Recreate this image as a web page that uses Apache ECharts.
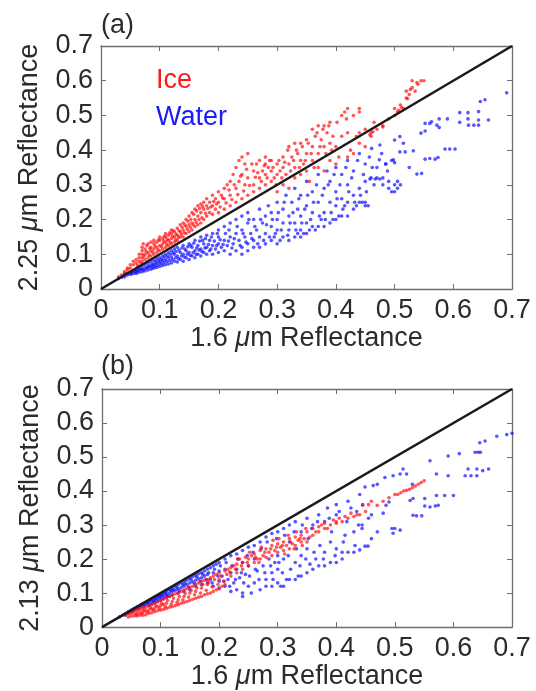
<!DOCTYPE html>
<html>
<head>
<meta charset="utf-8">
<script src="https://cdn.jsdelivr.net/npm/echarts@6/dist/echarts.min.js"></script>
<style>
html, body { margin: 0; padding: 0; background: #fff; }
#main { width: 536px; height: 691px; }
</style>
</head>
<body>
<div id="main"></div>
<script>
var ticks = [0, 0.1, 0.2, 0.3, 0.4, 0.5, 0.6, 0.7];
var diagLine = [[0, 0], [0.7, 0.7]];
var panelTags = ['(a)', '(b)'];
var yTitles = ['2.25 {mu|μ}m Reflectance', '2.13 {mu|μ}m Reflectance'];
var xTitle = '1.6 {mu|μ}m Reflectance';

// panel (a): 1.6 vs 2.25 um
var iceA = [
[0.03,0.035],[0.035,0.04],[0.04,0.045],[0.04,0.05],[0.045,0.055],[0.045,0.06],[0.05,0.06],[0.05,0.07],[0.055,0.07],[0.055,0.08],
[0.06,0.075],[0.06,0.085],[0.065,0.08],[0.065,0.09],[0.065,0.1],[0.07,0.08],[0.07,0.09],[0.07,0.1],[0.07,0.11],[0.07,0.12],
[0.072,0.13],[0.075,0.085],[0.075,0.1],[0.075,0.115],[0.078,0.125],[0.08,0.09],[0.08,0.105],[0.08,0.13],[0.085,0.095],[0.085,0.11],
[0.085,0.12],[0.085,0.135],[0.09,0.1],[0.09,0.115],[0.09,0.13],[0.09,0.14],[0.095,0.105],[0.095,0.12],[0.095,0.135],[0.1,0.11],
[0.1,0.125],[0.1,0.14],[0.1,0.15],[0.105,0.115],[0.105,0.13],[0.105,0.145],[0.11,0.12],[0.11,0.135],[0.11,0.15],[0.11,0.16],
[0.115,0.125],[0.115,0.14],[0.115,0.155],[0.12,0.13],[0.12,0.145],[0.12,0.16],[0.12,0.17],[0.125,0.135],[0.125,0.15],[0.125,0.165],
[0.13,0.14],[0.13,0.155],[0.13,0.175],[0.135,0.15],[0.135,0.165],[0.135,0.185],[0.14,0.15],[0.14,0.17],[0.14,0.19],[0.145,0.16],
[0.145,0.18],[0.145,0.2],[0.15,0.165],[0.15,0.185],[0.15,0.21],[0.155,0.17],[0.155,0.19],[0.155,0.22],[0.16,0.18],[0.16,0.2],
[0.16,0.23],[0.165,0.185],[0.165,0.21],[0.165,0.24],[0.17,0.19],[0.17,0.22],[0.17,0.245],[0.175,0.2],[0.175,0.23],[0.175,0.25],
[0.18,0.21],[0.18,0.24],[0.18,0.26],[0.185,0.22],[0.185,0.25],[0.19,0.215],[0.19,0.24],[0.19,0.27],[0.195,0.23],[0.195,0.26],
[0.2,0.22],[0.2,0.25],[0.2,0.28],[0.205,0.27],[0.21,0.23],[0.21,0.26],[0.21,0.29],[0.215,0.3],[0.22,0.24],[0.22,0.27],
[0.22,0.31],[0.225,0.33],[0.23,0.25],[0.23,0.29],[0.23,0.35],[0.235,0.31],[0.235,0.37],[0.24,0.26],[0.24,0.33],[0.24,0.38],
[0.245,0.3],[0.245,0.36],[0.25,0.27],[0.25,0.32],[0.25,0.39],[0.26,0.28],[0.26,0.3],[0.26,0.34],[0.265,0.36],[0.27,0.29],
[0.27,0.32],[0.27,0.37],[0.275,0.34],[0.28,0.3],[0.28,0.33],[0.28,0.36],[0.28,0.38],[0.285,0.35],[0.29,0.31],[0.29,0.34],
[0.29,0.37],[0.295,0.32],[0.3,0.28],[0.3,0.33],[0.3,0.36],[0.305,0.34],[0.31,0.3],[0.31,0.35],[0.31,0.38],[0.315,0.33],
[0.32,0.29],[0.32,0.36],[0.32,0.41],[0.325,0.38],[0.33,0.32],[0.33,0.35],[0.33,0.42],[0.335,0.39],[0.34,0.33],[0.34,0.37],
[0.34,0.42],[0.345,0.36],[0.35,0.34],[0.35,0.39],[0.35,0.43],[0.355,0.31],[0.36,0.37],[0.36,0.41],[0.36,0.46],[0.365,0.44],
[0.37,0.35],[0.37,0.39],[0.37,0.47],[0.375,0.43],[0.38,0.34],[0.38,0.41],[0.38,0.47],[0.385,0.45],[0.39,0.37],[0.39,0.42],
[0.39,0.48],[0.395,0.44],[0.4,0.36],[0.4,0.41],[0.41,0.44],[0.41,0.5],[0.415,0.51],[0.42,0.38],[0.42,0.45],[0.42,0.52],
[0.43,0.39],[0.43,0.5],[0.44,0.42],[0.44,0.52],[0.45,0.41],[0.45,0.46],[0.46,0.45],[0.47,0.46],[0.48,0.47],[0.49,0.49],
[0.5,0.5],[0.5,0.52],[0.505,0.51],[0.51,0.53],[0.515,0.52],[0.52,0.55],[0.52,0.57],[0.525,0.56],[0.53,0.58],[0.53,0.6],
[0.535,0.57],[0.54,0.59],[0.545,0.6],[0.55,0.6],[0.46,0.44],[0.44,0.45],[0.465,0.48],[0.458,0.444],[0.463,0.453],[0.48,0.467],
[0.062,0.068],[0.068,0.074],[0.073,0.094],[0.077,0.108],[0.082,0.098],[0.083,0.117],[0.088,0.106],[0.092,0.124],[0.097,0.113],[0.098,0.142],
[0.103,0.122],[0.107,0.138],[0.108,0.152],[0.112,0.128],[0.113,0.143],[0.117,0.162],[0.118,0.134],[0.122,0.152],[0.123,0.168],[0.127,0.142],
[0.128,0.158],[0.132,0.148],[0.133,0.168],[0.137,0.158],[0.138,0.178],[0.142,0.162],[0.143,0.185],[0.147,0.172],[0.148,0.195],[0.152,0.178],
[0.153,0.2],[0.157,0.185],[0.158,0.215],[0.162,0.192],[0.163,0.225],[0.167,0.2],[0.168,0.232],[0.172,0.205],[0.173,0.238],[0.178,0.218],
[0.182,0.232],[0.187,0.236],[0.192,0.252],[0.197,0.245],[0.203,0.236],[0.207,0.262],[0.213,0.248],[0.218,0.285],[0.223,0.258],[0.227,0.3],
[0.233,0.272],[0.238,0.325],[0.243,0.282],[0.248,0.345],[0.253,0.298],[0.257,0.36],[0.263,0.322],[0.267,0.335],[0.273,0.31],[0.278,0.355],
[0.283,0.32],[0.287,0.37],[0.293,0.35],[0.298,0.3],[0.303,0.37],[0.308,0.32],[0.313,0.365],[0.318,0.4],[0.323,0.34],[0.328,0.37],
[0.333,0.4],[0.338,0.35],[0.343,0.41],[0.348,0.37],[0.353,0.42],[0.358,0.39],[0.363,0.35],[0.368,0.45],[0.373,0.41],[0.378,0.46],
[0.383,0.39],[0.388,0.47],[0.393,0.4],[0.405,0.38],[0.425,0.4],[0.435,0.44],[0.402,0.48],[0.418,0.49],[0.44,0.51],[0.527,0.575],
[0.538,0.595],[0.522,0.548],[0.507,0.515],[0.512,0.523]
];
var waterA = [
[0.03,0.03],[0.035,0.033],[0.04,0.035],[0.04,0.04],[0.045,0.04],[0.045,0.045],[0.05,0.042],[0.05,0.048],[0.055,0.045],[0.055,0.052],
[0.06,0.045],[0.06,0.05],[0.06,0.057],[0.065,0.048],[0.065,0.055],[0.065,0.062],[0.07,0.05],[0.07,0.058],[0.07,0.066],[0.075,0.052],
[0.075,0.06],[0.075,0.07],[0.08,0.055],[0.08,0.063],[0.08,0.074],[0.085,0.057],[0.085,0.067],[0.085,0.078],[0.09,0.06],[0.09,0.07],
[0.09,0.082],[0.095,0.062],[0.095,0.074],[0.095,0.087],[0.1,0.065],[0.1,0.078],[0.1,0.09],[0.105,0.068],[0.105,0.082],[0.105,0.095],
[0.11,0.07],[0.11,0.085],[0.11,0.1],[0.115,0.072],[0.115,0.09],[0.115,0.105],[0.12,0.075],[0.12,0.092],[0.12,0.11],[0.125,0.08],
[0.125,0.1],[0.125,0.115],[0.13,0.078],[0.13,0.095],[0.13,0.12],[0.135,0.085],[0.135,0.105],[0.14,0.08],[0.14,0.1],[0.14,0.125],
[0.145,0.09],[0.145,0.11],[0.15,0.085],[0.15,0.105],[0.15,0.13],[0.155,0.095],[0.155,0.12],[0.16,0.09],[0.16,0.11],[0.16,0.14],
[0.165,0.1],[0.165,0.125],[0.17,0.095],[0.17,0.115],[0.17,0.15],[0.175,0.105],[0.175,0.13],[0.18,0.1],[0.18,0.12],[0.18,0.155],
[0.185,0.11],[0.185,0.14],[0.19,0.1],[0.19,0.125],[0.19,0.16],[0.195,0.115],[0.2,0.105],[0.2,0.13],[0.2,0.15],[0.2,0.17],
[0.205,0.12],[0.21,0.11],[0.21,0.14],[0.21,0.18],[0.215,0.125],[0.22,0.1],[0.22,0.15],[0.22,0.19],[0.225,0.13],[0.23,0.11],
[0.23,0.16],[0.23,0.2],[0.235,0.14],[0.24,0.1],[0.24,0.12],[0.24,0.17],[0.24,0.21],[0.245,0.15],[0.25,0.11],[0.25,0.13],
[0.25,0.19],[0.25,0.22],[0.255,0.16],[0.26,0.12],[0.26,0.14],[0.26,0.2],[0.265,0.17],[0.27,0.12],[0.27,0.15],[0.27,0.23],
[0.275,0.19],[0.28,0.13],[0.28,0.16],[0.28,0.21],[0.285,0.24],[0.29,0.14],[0.29,0.18],[0.29,0.22],[0.295,0.15],[0.3,0.13],
[0.3,0.17],[0.3,0.2],[0.3,0.25],[0.305,0.14],[0.31,0.15],[0.31,0.19],[0.31,0.23],[0.315,0.27],[0.32,0.14],[0.32,0.17],
[0.32,0.21],[0.325,0.25],[0.33,0.15],[0.33,0.19],[0.33,0.29],[0.335,0.16],[0.335,0.23],[0.34,0.15],[0.34,0.17],[0.34,0.21],
[0.34,0.27],[0.345,0.16],[0.35,0.16],[0.35,0.19],[0.35,0.24],[0.35,0.31],[0.355,0.17],[0.36,0.18],[0.36,0.22],[0.36,0.28],
[0.365,0.17],[0.37,0.18],[0.37,0.25],[0.37,0.33],[0.375,0.2],[0.38,0.18],[0.38,0.22],[0.38,0.29],[0.385,0.34],[0.39,0.19],
[0.39,0.25],[0.39,0.31],[0.395,0.2],[0.4,0.2],[0.4,0.24],[0.4,0.28],[0.4,0.35],[0.405,0.21],[0.41,0.21],[0.41,0.26],
[0.41,0.33],[0.415,0.24],[0.42,0.21],[0.42,0.25],[0.42,0.3],[0.42,0.37],[0.43,0.23],[0.43,0.27],[0.43,0.34],[0.435,0.24],
[0.44,0.25],[0.44,0.29],[0.44,0.39],[0.445,0.25],[0.45,0.24],[0.45,0.25],[0.45,0.31],[0.45,0.36],[0.455,0.24],[0.46,0.32],
[0.461,0.405],[0.465,0.3],[0.47,0.32],[0.47,0.35],[0.475,0.415],[0.48,0.3],[0.48,0.32],[0.485,0.36],[0.49,0.29],[0.49,0.31],
[0.495,0.28],[0.495,0.37],[0.5,0.28],[0.5,0.3],[0.5,0.364],[0.498,0.372],[0.5,0.429],[0.505,0.29],[0.505,0.31],[0.509,0.395],
[0.509,0.439],[0.51,0.3],[0.518,0.395],[0.532,0.398],[0.538,0.331],[0.546,0.333],[0.545,0.449],[0.552,0.455],[0.552,0.374],[0.56,0.376],
[0.569,0.374],[0.574,0.379],[0.56,0.477],[0.563,0.482],[0.552,0.477],[0.572,0.472],[0.576,0.465],[0.576,0.49],[0.59,0.49],[0.586,0.403],
[0.594,0.403],[0.603,0.403],[0.611,0.48],[0.611,0.508],[0.625,0.508],[0.625,0.49],[0.626,0.472],[0.635,0.472],[0.643,0.472],[0.643,0.487],
[0.66,0.487],[0.643,0.511],[0.646,0.54],[0.654,0.545],[0.691,0.565],[0.474,0.372],[0.485,0.36],[0.458,0.317],[0.467,0.317],[0.475,0.317],
[0.052,0.044],[0.058,0.049],[0.062,0.052],[0.067,0.056],[0.072,0.055],[0.078,0.061],[0.082,0.066],[0.087,0.062],[0.088,0.072],[0.092,0.066],
[0.093,0.078],[0.097,0.069],[0.098,0.082],[0.102,0.073],[0.103,0.086],[0.107,0.076],[0.108,0.092],[0.112,0.079],[0.113,0.095],[0.117,0.082],
[0.118,0.1],[0.122,0.085],[0.123,0.104],[0.127,0.09],[0.128,0.108],[0.132,0.088],[0.133,0.112],[0.137,0.095],[0.138,0.118],[0.142,0.092],
[0.143,0.115],[0.147,0.1],[0.148,0.122],[0.152,0.097],[0.153,0.125],[0.157,0.105],[0.158,0.132],[0.162,0.1],[0.163,0.118],[0.167,0.112],
[0.168,0.138],[0.172,0.108],[0.173,0.14],[0.177,0.118],[0.178,0.145],[0.183,0.128],[0.187,0.115],[0.188,0.15],[0.193,0.138],[0.197,0.125],
[0.198,0.16],[0.203,0.142],[0.208,0.128],[0.212,0.16],[0.217,0.138],[0.218,0.17],[0.223,0.118],[0.227,0.145],[0.232,0.18],[0.237,0.125],
[0.242,0.16],[0.247,0.135],[0.252,0.2],[0.257,0.145],[0.262,0.18],[0.267,0.13],[0.272,0.2],[0.277,0.14],[0.282,0.185],[0.287,0.15],
[0.292,0.2],[0.297,0.16],[0.302,0.22],[0.307,0.17],[0.312,0.25],[0.318,0.155],[0.322,0.19],[0.327,0.22],[0.332,0.17],[0.337,0.26],
[0.342,0.19],[0.347,0.23],[0.352,0.27],[0.357,0.2],[0.362,0.25],[0.367,0.3],[0.372,0.21],[0.377,0.27],[0.382,0.2],[0.387,0.3],
[0.392,0.22],[0.397,0.33],[0.402,0.26],[0.407,0.3],[0.412,0.23],[0.417,0.35],[0.422,0.28],[0.427,0.32],[0.432,0.25],[0.437,0.37],
[0.442,0.27],[0.447,0.33],[0.452,0.28],[0.457,0.38],[0.462,0.35],[0.478,0.39],[0.488,0.34],[0.515,0.42],[0.525,0.35]
];

// panel (b): 1.6 vs 2.13 um
var iceB = [
[0.04,0.035],[0.045,0.03],[0.045,0.04],[0.05,0.032],[0.05,0.04],[0.05,0.045],[0.055,0.033],[0.055,0.042],[0.055,0.05],[0.06,0.033],
[0.06,0.04],[0.06,0.048],[0.06,0.055],[0.065,0.035],[0.065,0.043],[0.065,0.052],[0.07,0.035],[0.07,0.045],[0.07,0.055],[0.07,0.06],
[0.075,0.036],[0.075,0.047],[0.075,0.058],[0.08,0.04],[0.08,0.05],[0.08,0.062],[0.085,0.042],[0.085,0.053],[0.085,0.066],[0.09,0.045],
[0.09,0.056],[0.09,0.07],[0.095,0.048],[0.095,0.06],[0.095,0.074],[0.1,0.05],[0.1,0.063],[0.1,0.078],[0.105,0.052],[0.105,0.066],
[0.105,0.082],[0.11,0.055],[0.11,0.07],[0.11,0.086],[0.115,0.058],[0.115,0.09],[0.12,0.06],[0.12,0.075],[0.12,0.094],[0.125,0.063],
[0.125,0.098],[0.13,0.066],[0.13,0.08],[0.13,0.1],[0.135,0.07],[0.135,0.105],[0.14,0.072],[0.14,0.09],[0.14,0.11],[0.145,0.075],
[0.145,0.113],[0.15,0.078],[0.15,0.1],[0.15,0.117],[0.155,0.082],[0.155,0.12],[0.16,0.085],[0.16,0.105],[0.16,0.125],[0.165,0.088],
[0.165,0.13],[0.17,0.09],[0.17,0.115],[0.17,0.135],[0.175,0.095],[0.175,0.138],[0.18,0.098],[0.18,0.125],[0.18,0.14],[0.185,0.1],
[0.185,0.145],[0.19,0.105],[0.19,0.15],[0.195,0.11],[0.195,0.155],[0.2,0.112],[0.2,0.14],[0.2,0.16],[0.205,0.12],[0.21,0.125],
[0.21,0.165],[0.215,0.17],[0.22,0.15],[0.22,0.175],[0.225,0.18],[0.23,0.16],[0.23,0.185],[0.235,0.2],[0.24,0.17],[0.24,0.19],
[0.245,0.205],[0.25,0.18],[0.25,0.2],[0.255,0.21],[0.26,0.19],[0.26,0.215],[0.265,0.2],[0.27,0.2],[0.27,0.225],[0.275,0.21],
[0.28,0.205],[0.28,0.23],[0.285,0.22],[0.29,0.21],[0.29,0.24],[0.295,0.225],[0.3,0.22],[0.3,0.245],[0.305,0.235],[0.31,0.225],
[0.31,0.25],[0.315,0.24],[0.32,0.23],[0.32,0.26],[0.325,0.245],[0.33,0.24],[0.33,0.265],[0.335,0.255],[0.34,0.25],[0.34,0.27],
[0.345,0.26],[0.35,0.25],[0.35,0.28],[0.36,0.27],[0.36,0.29],[0.37,0.28],[0.37,0.295],[0.38,0.29],[0.38,0.305],[0.39,0.3],
[0.4,0.305],[0.4,0.31],[0.41,0.31],[0.42,0.32],[0.43,0.325],[0.44,0.33],[0.445,0.358],[0.455,0.36],[0.46,0.37],[0.47,0.358],
[0.48,0.37],[0.49,0.38],[0.5,0.39],[0.505,0.39],[0.51,0.395],[0.515,0.4],[0.52,0.402],[0.525,0.405],[0.53,0.41],[0.535,0.415],
[0.54,0.42],[0.545,0.425],[0.55,0.43],
[0.058,0.036],[0.068,0.04],[0.072,0.05],[0.078,0.044],[0.083,0.057],[0.088,0.05],[0.092,0.063],[0.098,0.055],[0.102,0.07],[0.108,0.06],
[0.112,0.078],[0.118,0.066],[0.122,0.085],[0.128,0.072],[0.132,0.09],[0.138,0.08],[0.142,0.098],[0.148,0.088],[0.152,0.108],[0.158,0.095],
[0.162,0.115],[0.168,0.1],[0.172,0.125],[0.178,0.108],[0.182,0.132],[0.188,0.118],[0.192,0.14],[0.198,0.125],[0.203,0.15],[0.208,0.135],
[0.213,0.155],[0.218,0.162],[0.228,0.17],[0.232,0.2],[0.238,0.18],[0.248,0.19],[0.252,0.22],[0.262,0.205],[0.268,0.19],[0.272,0.235],
[0.278,0.22],[0.288,0.23],[0.292,0.255],[0.298,0.235],[0.302,0.26],[0.308,0.24],[0.312,0.215],[0.318,0.27],[0.322,0.25],[0.328,0.23],
[0.332,0.28],[0.338,0.26],[0.342,0.24],[0.348,0.29],[0.355,0.265],[0.365,0.28],[0.375,0.3],[0.385,0.29],[0.395,0.315],[0.405,0.32],
[0.415,0.325],[0.425,0.335],[0.435,0.33],[0.45,0.34]
];
var waterB = [
[0.03,0.03],[0.035,0.035],[0.04,0.04],[0.04,0.036],[0.045,0.045],[0.045,0.04],[0.05,0.05],[0.05,0.046],[0.055,0.055],[0.055,0.05],
[0.06,0.06],[0.06,0.053],[0.065,0.064],[0.065,0.058],[0.07,0.069],[0.07,0.062],[0.075,0.073],[0.075,0.066],[0.08,0.078],[0.08,0.07],
[0.08,0.064],[0.085,0.083],[0.085,0.075],[0.085,0.068],[0.09,0.088],[0.09,0.079],[0.09,0.072],[0.095,0.092],[0.095,0.083],[0.095,0.076],
[0.1,0.097],[0.1,0.088],[0.1,0.08],[0.105,0.1],[0.105,0.092],[0.105,0.084],[0.11,0.105],[0.11,0.096],[0.11,0.088],[0.115,0.11],
[0.115,0.1],[0.115,0.09],[0.12,0.115],[0.12,0.105],[0.12,0.095],[0.125,0.12],[0.125,0.108],[0.13,0.125],[0.13,0.112],[0.13,0.1],
[0.135,0.13],[0.135,0.116],[0.14,0.135],[0.14,0.12],[0.14,0.105],[0.145,0.138],[0.145,0.125],[0.15,0.143],[0.15,0.13],[0.15,0.11],
[0.155,0.148],[0.155,0.133],[0.16,0.152],[0.16,0.138],[0.16,0.12],[0.165,0.157],[0.165,0.142],[0.17,0.16],[0.17,0.145],[0.17,0.125],
[0.175,0.165],[0.175,0.15],[0.18,0.17],[0.18,0.155],[0.18,0.13],[0.185,0.175],[0.185,0.14],[0.19,0.18],[0.19,0.16],[0.19,0.12],
[0.195,0.185],[0.2,0.19],[0.2,0.165],[0.2,0.135],[0.2,0.115],[0.205,0.15],[0.21,0.2],[0.21,0.17],[0.21,0.12],[0.215,0.14],
[0.22,0.21],[0.22,0.16],[0.22,0.105],[0.225,0.13],[0.23,0.215],[0.23,0.17],[0.23,0.11],[0.235,0.145],[0.24,0.225],[0.24,0.19],
[0.24,0.1],[0.24,0.09],[0.245,0.155],[0.25,0.235],[0.25,0.18],[0.25,0.12],[0.255,0.1],[0.26,0.24],[0.26,0.2],[0.26,0.13],
[0.265,0.165],[0.27,0.25],[0.27,0.11],[0.275,0.18],[0.28,0.265],[0.28,0.14],[0.28,0.12],[0.285,0.2],[0.29,0.275],[0.29,0.16],
[0.29,0.12],[0.295,0.19],[0.3,0.28],[0.3,0.13],[0.3,0.17],[0.3,0.21],[0.305,0.12],[0.31,0.12],[0.31,0.29],[0.31,0.2],
[0.315,0.14],[0.32,0.3],[0.32,0.25],[0.32,0.14],[0.33,0.14],[0.33,0.31],[0.33,0.19],[0.335,0.15],[0.34,0.28],[0.34,0.15],
[0.34,0.21],[0.35,0.32],[0.35,0.16],[0.35,0.23],[0.355,0.185],[0.36,0.17],[0.36,0.3],[0.365,0.2],[0.37,0.33],[0.37,0.18],
[0.38,0.18],[0.38,0.22],[0.38,0.31],[0.385,0.35],[0.39,0.19],[0.39,0.25],[0.4,0.19],[0.4,0.23],[0.4,0.33],[0.4,0.36],
[0.41,0.2],[0.41,0.22],[0.415,0.27],[0.42,0.22],[0.42,0.37],[0.43,0.22],[0.43,0.28],[0.435,0.34],[0.44,0.227],[0.44,0.39],
[0.449,0.238],[0.454,0.238],[0.444,0.3],[0.444,0.29],[0.449,0.412],[0.463,0.416],[0.47,0.42],[0.46,0.26],[0.46,0.33],[0.47,0.28],
[0.483,0.44],[0.497,0.445],[0.509,0.45],[0.514,0.465],[0.48,0.335],[0.485,0.358],[0.49,0.368],[0.495,0.29],[0.5,0.29],[0.509,0.285],
[0.497,0.276],[0.526,0.372],[0.531,0.378],[0.551,0.378],[0.531,0.329],[0.537,0.327],[0.546,0.327],[0.551,0.356],[0.56,0.353],[0.569,0.356],
[0.574,0.358],[0.571,0.387],[0.585,0.387],[0.6,0.387],[0.56,0.489],[0.571,0.45],[0.591,0.503],[0.591,0.445],[0.62,0.445],[0.63,0.445],
[0.64,0.445],[0.625,0.465],[0.64,0.465],[0.65,0.46],[0.66,0.465],[0.637,0.514],[0.642,0.514],[0.646,0.514],[0.645,0.542],[0.654,0.547],
[0.674,0.561],[0.691,0.566],[0.7,0.57],[0.61,0.51],[0.52,0.45],[0.53,0.42],
[0.052,0.048],[0.062,0.056],[0.068,0.066],[0.072,0.064],[0.078,0.072],[0.082,0.08],[0.088,0.077],[0.092,0.085],[0.098,0.09],[0.102,0.094],
[0.108,0.1],[0.112,0.092],[0.118,0.108],[0.122,0.11],[0.128,0.116],[0.132,0.106],[0.138,0.125],[0.142,0.128],[0.148,0.118],[0.152,0.14],
[0.158,0.128],[0.162,0.148],[0.168,0.135],[0.172,0.155],[0.178,0.14],[0.182,0.16],[0.188,0.13],[0.192,0.17],[0.198,0.15],[0.202,0.18],
[0.208,0.135],[0.212,0.19],[0.218,0.12],[0.222,0.18],[0.228,0.14],[0.232,0.2],[0.238,0.16],[0.242,0.13],[0.248,0.21],[0.252,0.15],
[0.258,0.22],[0.262,0.17],[0.268,0.14],[0.272,0.23],[0.278,0.16],[0.282,0.25],[0.288,0.18],[0.292,0.14],[0.298,0.26],[0.302,0.19],
[0.308,0.16],[0.312,0.27],[0.318,0.21],[0.322,0.17],[0.328,0.28],[0.332,0.23],[0.338,0.18],[0.342,0.3],[0.348,0.2],[0.352,0.26],
[0.358,0.29],[0.362,0.22],[0.368,0.31],[0.372,0.24],[0.378,0.2],[0.388,0.32],[0.392,0.28],[0.398,0.21],[0.405,0.34],[0.412,0.25],
[0.418,0.31],[0.425,0.35],[0.432,0.24],[0.438,0.3],[0.445,0.36],[0.455,0.32]
];

var fontFam = '"Liberation Sans", Arial, sans-serif';
var txt = '#2b2b2b';
var axisCol = '#6e6e6e';
var grids = [
  { left: 101, top: 46, width: 411, height: 243 },
  { left: 102, top: 389, width: 410, height: 241 }
];

function makeX(gi, pos, withLabel) {
  return {
    type: 'value', gridIndex: gi, position: pos, min: 0, max: 0.7, interval: 0.1,
    name: withLabel ? xTitle : '', nameLocation: 'middle', nameGap: gi === 0 ? 32 : 33,
    nameTextStyle: { fontSize: 27, color: txt, fontFamily: fontFam,
      rich: { mu: { fontSize: 27, fontStyle: 'italic', color: txt, fontFamily: fontFam } } },
    axisLine: { show: true, onZero: false, lineStyle: { color: axisCol, width: 1.3 } },
    axisTick: { show: true, inside: true, length: 5, lineStyle: { color: axisCol } },
    axisLabel: { show: withLabel, fontSize: 27, color: txt, fontFamily: fontFam, margin: 8 },
    splitLine: { show: false }
  };
}
function makeY(gi, pos, withLabel) {
  return {
    type: 'value', gridIndex: gi, position: pos, min: 0, max: 0.7, interval: 0.1,
    name: withLabel ? yTitles[gi] : '', nameLocation: 'middle', nameGap: 58,
    nameTextStyle: { fontSize: 27, color: txt, fontFamily: fontFam,
      rich: { mu: { fontSize: 27, fontStyle: 'italic', color: txt, fontFamily: fontFam } } },
    axisLine: { show: true, onZero: false, lineStyle: { color: axisCol, width: 1.3 } },
    axisTick: { show: true, inside: true, length: 5, lineStyle: { color: axisCol } },
    axisLabel: { show: withLabel, fontSize: 27, color: txt, fontFamily: fontFam, margin: 8 },
    splitLine: { show: false }
  };
}

function dots(name, data, gi, color) {
  return {
    name: name, type: 'scatter', xAxisIndex: gi * 2, yAxisIndex: gi * 2, data: data,
    symbol: 'circle', symbolSize: 3.6, silent: true,
    itemStyle: { color: color, opacity: 0.7 }
  };
}
function diag(gi) {
  return {
    name: 'diag' + gi, type: 'line', xAxisIndex: gi * 2, yAxisIndex: gi * 2, data: diagLine,
    showSymbol: false, silent: true, z: 5,
    lineStyle: { color: '#1a1a1a', width: 2.6 }
  };
}

echarts.init(document.getElementById('main')).setOption({
  animation: false,
  title: [
    { text: panelTags[0], left: 96, top: 7, textStyle: { fontSize: 27, fontWeight: 'normal', color: txt, fontFamily: fontFam } },
    { text: panelTags[1], left: 96, top: 348, textStyle: { fontSize: 27, fontWeight: 'normal', color: txt, fontFamily: fontFam } }
  ],
  legend: {
    data: [
      { name: 'Ice', textStyle: { color: '#ff1a1a' } },
      { name: 'Water', textStyle: { color: '#1a1aff' } }
    ],
    orient: 'vertical', left: 146, top: 62, itemWidth: 0, itemHeight: 0, itemGap: 10,
    icon: 'circle', selectedMode: false,
    textStyle: { fontSize: 27, fontFamily: fontFam }
  },
  grid: grids,
  xAxis: [makeX(0, 'bottom', true), makeX(0, 'top', false), makeX(1, 'bottom', true), makeX(1, 'top', false)],
  yAxis: [makeY(0, 'left', true), makeY(0, 'right', false), makeY(1, 'left', true), makeY(1, 'right', false)],
  series: [
    dots('Ice', iceA, 0, '#ff1010'),
    dots('Water', waterA, 0, '#1010ff'),
    diag(0),
    dots('Water', waterB, 1, '#1010ff'),
    dots('Ice', iceB, 1, '#ff1010'),
    diag(1)
  ]
});
</script>
</body>
</html>
